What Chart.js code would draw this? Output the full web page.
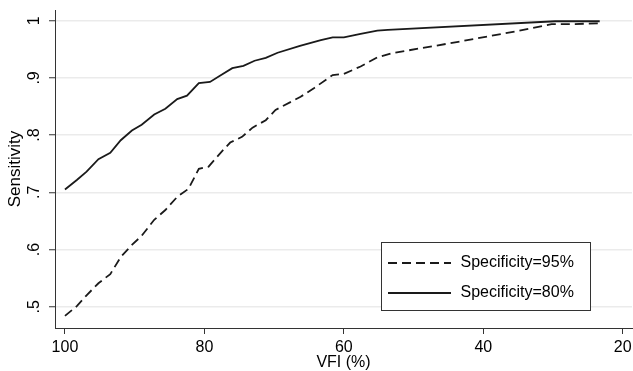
<!DOCTYPE html>
<html>
<head>
<meta charset="utf-8">
<script src="https://cdn.jsdelivr.net/npm/chart.js@4/dist/chart.umd.min.js"></script>
<style>
html,body{margin:0;padding:0;background:#fff;}
#wrap{width:633px;height:371px;position:relative;}
</style>
</head>
<body>
<div id="wrap"><canvas id="c"></canvas></div>
<script>
// ---- data ----
const seriesLabels = ['Specificity=95%', 'Specificity=80%'];

const vfi95  = [100, 98.3, 96.9, 95.2, 93.5, 92.0, 90.4, 89.0, 87.2, 85.6, 83.9, 82.3, 80.8, 79.4, 77.3, 76.3, 74.6, 73.1, 71.2, 69.8, 66.2, 64.3, 61.6, 60.0, 57.6, 55.2, 53.2, 43.6, 35.5, 30.2, 27.3, 23.3];
const sens95 = [0.484, 0.501, 0.520, 0.541, 0.557, 0.587, 0.608, 0.624, 0.652, 0.669, 0.692, 0.706, 0.741, 0.745, 0.774, 0.787, 0.797, 0.813, 0.826, 0.844, 0.867, 0.882, 0.905, 0.907, 0.920, 0.936, 0.943, 0.963, 0.981, 0.994, 0.994, 0.9955];

const vfi80  = [100, 98.3, 96.9, 95.2, 93.5, 92.0, 90.4, 89.0, 87.2, 85.6, 83.9, 82.5, 80.8, 79.2, 77.6, 76.0, 74.4, 72.8, 71.2, 69.5, 66.3, 63.3, 61.6, 60.0, 57.6, 55.2, 53.7, 29.7, 23.3];
const sens80 = [0.705, 0.7215, 0.736, 0.758, 0.769, 0.791, 0.808, 0.818, 0.836, 0.846, 0.863, 0.869, 0.891, 0.893, 0.905, 0.917, 0.921, 0.930, 0.935, 0.944, 0.956, 0.966, 0.971, 0.971, 0.977, 0.9825, 0.984, 0.999, 0.999];

const xTicks = [100, 80, 60, 40, 20];
const yTicks = [0.5, 0.6, 0.7, 0.8, 0.9, 1];

// ---- build chart ----
const toPts = (xs, ys) => xs.map((x, i) => ({x: x, y: ys[i]}));
const INK = '#1a1a1a';

// legend line samples (drawn as point-style images by the legend)
function lineSample(dash) {
  const cv = document.createElement('canvas');
  cv.width = 63; cv.height = 4;
  const g = cv.getContext('2d');
  g.strokeStyle = INK; g.lineWidth = 1.8;
  g.setLineDash(dash);
  g.beginPath(); g.moveTo(0, 2); g.lineTo(63, 2); g.stroke();
  return cv;
}

Chart.defaults.font.family = "'Liberation Sans', Arial, Helvetica, sans-serif";
Chart.defaults.color = '#000';

const legendBoxPlugin = {
  id: 'legendBox',
  beforeDraw(chart) {
    const lg = chart.legend;
    if (!lg) return;
    lg.left = 372.5; lg.top = 241;
    lg.right = lg.left + 250; lg.bottom = lg.top + 120;
    lg.width = 250; lg.height = 120;
  },
  beforeDatasetsDraw(chart) {
    const ctx = chart.ctx;
    ctx.save();
    ctx.fillStyle = '#fff';
    ctx.fillRect(381, 242, 210, 69);
    ctx.strokeStyle = '#333';
    ctx.lineWidth = 1;
    ctx.strokeRect(381.5, 242.5, 209, 68);
    ctx.restore();
    chart.legend.draw();
  }
};

new Chart(document.getElementById('c'), {
  type: 'line',
  data: {
    datasets: [
      {
        label: seriesLabels[0],
        data: toPts(vfi95, sens95),
        borderColor: INK, backgroundColor: INK,
        borderWidth: 1.8, borderDash: [9, 5],
        pointRadius: 0, pointStyle: lineSample([9, 5]), tension: 0, fill: false
      },
      {
        label: seriesLabels[1],
        data: toPts(vfi80, sens80),
        borderColor: INK, backgroundColor: INK,
        borderWidth: 1.8,
        pointRadius: 0, pointStyle: lineSample([]), tension: 0, fill: false
      }
    ]
  },
  options: {
    responsive: true,
    maintainAspectRatio: false,
    animation: false,
    devicePixelRatio: 1,
    layout: { padding: { top: 10, right: 1, left: 0, bottom: 0 } },
    scales: {
      x: {
        type: 'linear',
        reverse: true,
        min: 18.67, max: 101.43,
        afterBuildTicks: s => { s.ticks = xTicks.map(v => ({value: v})); },
        afterFit: s => { s.height = 43; s.paddingLeft = 0; s.paddingRight = 0; },
        ticks: { font: {size: 16}, color: '#000', padding: 4.4, maxRotation: 0, autoSkip: false,
                 callback: v => String(v) },
        grid: { drawOnChartArea: false, tickLength: 6, tickColor: '#333', tickWidth: 1 },
        border: { color: '#333', width: 1 },
        title: { display: true, text: 'VFI (%)', font: {size: 16, lineHeight: 1}, color: '#000', padding: {top: 0, bottom: 0} }
      },
      y: {
        min: 0.4628, max: 1.0187,
        afterBuildTicks: s => { s.ticks = yTicks.map(v => ({value: v})); },
        afterFit: s => { s.width = 55; s.paddingTop = 0; s.paddingBottom = 0; },
        ticks: { font: {size: 16}, color: '#000', padding: 8, minRotation: 90, maxRotation: 90,
                 crossAlign: 'center', autoSkip: false,
                 callback: v => (v === 1 ? '1' : v.toFixed(1).replace(/^0/, '')) },
        grid: { color: '#ebebeb', lineWidth: 1.5, tickLength: 6, tickColor: '#333', tickWidth: 1 },
        border: { color: '#333', width: 1 },
        title: { display: true, text: 'Sensitivity', font: {size: 17}, color: '#000', padding: {top: 5.6, bottom: 0} }
      }
    },
    plugins: {
      tooltip: { enabled: false },
      legend: {
        position: 'chartArea',
        align: 'start',
        labels: {
          usePointStyle: true, pointStyleWidth: 66,
          boxHeight: 16, font: {size: 16}, color: '#000', padding: 14
        }
      }
    }
  },
  plugins: [legendBoxPlugin]
});
</script>
</body>
</html>
